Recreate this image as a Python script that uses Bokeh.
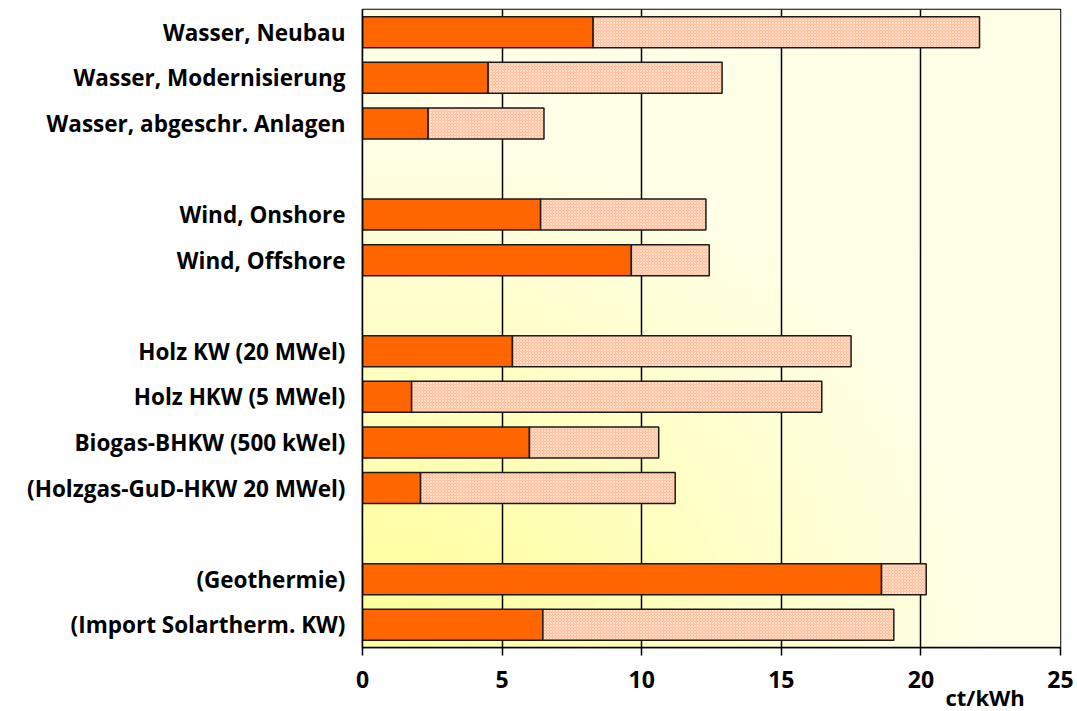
import numpy as np
from bokeh.plotting import figure
from bokeh.models import FixedTicker, Range1d, LinearAxis
from bokeh.embed import file_html
from bokeh.resources import INLINE

# ---- data ----
categories = [
    "Wasser, Neubau", "Wasser, Modernisierung", "Wasser, abgeschr. Anlagen",
    "Wind, Onshore", "Wind, Offshore",
    "Holz KW (20 MWel)", "Holz HKW (5 MWel)", "Biogas-BHKW (500 kWel)", "(Holzgas-GuD-HKW 20 MWel)",
    "(Geothermie)", "(Import Solartherm. KW)",
]
group_sizes = [3, 2, 4, 2]
low_values = [8.26, 4.50, 2.35, 6.38, 9.63, 5.37, 1.76, 5.98, 2.08, 18.59, 6.46]
high_values = [22.10, 12.88, 6.50, 12.30, 12.42, 17.50, 16.45, 10.61, 11.20, 20.19, 19.03]
x_ticks = [0, 5, 10, 15, 20, 25]
unit_label = "ct/kWh"

# ---- layout of rows (groups separated by one empty slot) ----
n_slots = sum(group_sizes) + len(group_sizes) - 1
ypos = []
slot = n_slots - 1
for gi, size in enumerate(group_sizes):
    for _ in range(size):
        ypos.append(slot)
        slot -= 1
    slot -= 1

FONT = "Open Sans"

p = figure(
    frame_width=698, frame_height=638,
    x_range=Range1d(0, 25), y_range=Range1d(-0.5, n_slots - 0.5),
    output_backend="svg", toolbar_location=None,
    min_border_left=362, min_border_right=14, min_border_top=9, min_border_bottom=60,
    background_fill_color="#FFFFE8", border_fill_color="white",
)

# background gradient (yellow bottom-left -> cream top-right)
nx, ny = 240, 160
X, Y = np.meshgrid(np.linspace(0, 1, nx), np.linspace(0, 1, ny))
d = np.sqrt(X ** 2 + (Y * 1.1) ** 2)
t = np.clip(d / 0.9, 0, 1) ** 1.0
img = np.empty((ny, nx), dtype=np.uint32)
view = img.view(dtype=np.uint8).reshape((ny, nx, 4))
view[:, :, 0] = 255
view[:, :, 1] = 255
view[:, :, 2] = (150 + t * (232 - 150)).astype(np.uint8)
view[:, :, 3] = 255
p.image_rgba(image=[img], x=0, y=-0.5, dw=25, dh=n_slots, level="image")

# bars
p.hbar(y=ypos, left=0, right=low_values, height=0.68,
       fill_color="#FF6600", line_color="#1a1a1a", line_width=1.5)
p.hbar(y=ypos, left=low_values, right=high_values, height=0.68,
       fill_color="#FFBE98", line_color="#1a1a1a", line_width=1.5,
       hatch_pattern="x", hatch_color="white", hatch_alpha=0.45,
       hatch_scale=3, hatch_weight=1)

# main x axis
xa = p.below[0]
xa.ticker = FixedTicker(ticks=x_ticks)
xa.axis_line_color = "black"
xa.axis_line_width = 1.5
xa.major_tick_line_color = "black"
xa.major_tick_line_width = 1.5
xa.major_tick_out = 8
xa.major_tick_in = 0
xa.minor_tick_line_color = None
xa.major_label_text_font = FONT
xa.major_label_text_font_style = "bold"
xa.major_label_text_font_size = "23px"
xa.major_label_text_color = "black"
xa.major_label_standoff = 15

# unit text as a second, line-less axis beneath the first
unit_pos = 22.3
ua = LinearAxis(
    ticker=FixedTicker(ticks=[unit_pos]),
    major_label_overrides={unit_pos: unit_label},
    axis_line_color=None, major_tick_line_color=None, minor_tick_line_color=None,
    major_tick_out=0, major_tick_in=0, major_label_standoff=-9,
    major_label_text_font=FONT, major_label_text_font_style="bold",
    major_label_text_font_size="22px", major_label_text_color="black",
)
p.add_layout(ua, "below")

p.xgrid.ticker = FixedTicker(ticks=x_ticks)

ya = p.left[0]
ya.ticker = FixedTicker(ticks=ypos)
ya.major_label_overrides = {y: c for y, c in zip(ypos, categories)}
ya.axis_line_color = "black"
ya.axis_line_width = 1.5
ya.major_tick_line_color = None
ya.minor_tick_line_color = None
ya.major_label_text_font = FONT
ya.major_label_text_font_style = "bold"
ya.major_label_text_font_size = "22.5px"
ya.major_label_text_color = "black"
ya.major_label_standoff = 11

p.ygrid.grid_line_color = None
p.xgrid.grid_line_color = "black"
p.xgrid.grid_line_width = 1.5
p.outline_line_color = "black"
p.outline_line_width = 1.5

open("out.html", "w").write(file_html(p, INLINE))
